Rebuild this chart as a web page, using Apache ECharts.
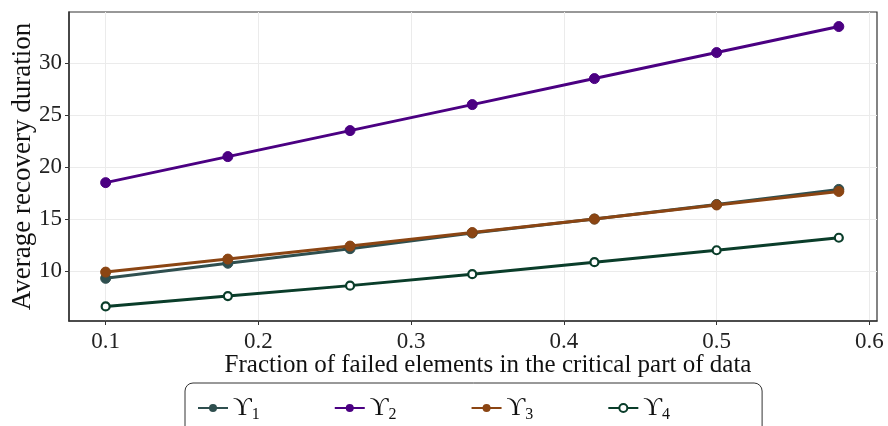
<!DOCTYPE html>
<html lang="en">
<head>
    <meta charset="UTF-8">
    <title>Average recovery duration</title>
    <script src="https://cdn.jsdelivr.net/npm/echarts@6/dist/echarts.min.js"></script>
    <style>
        html, body { margin: 0; padding: 0; background: #fff; }
        #main { width: 888px; height: 426px; }
    </style>
</head>
<body>
<div id="main"></div>
<script>
    // fraction of failed elements (x)
    let fractions = [0.1, 0.18, 0.26, 0.34, 0.42, 0.5, 0.58];
    let names = ['ϒ1', 'ϒ2', 'ϒ3', 'ϒ4'];
    let y1 = [9.3, 10.75, 12.15, 13.65, 15.0, 16.4, 17.85];
    let y2 = [18.5, 21.0, 23.5, 26.0, 28.5, 31.0, 33.5];
    let y3 = [9.9, 11.15, 12.4, 13.7, 15.0, 16.35, 17.65];
    let y4 = [6.6, 7.6, 8.6, 9.7, 10.85, 12.0, 13.2];
    let xTicks = [0.1, 0.2, 0.3, 0.4, 0.5, 0.6];
    let yTicks = [10, 15, 20, 25, 30];

    let font = '"Liberation Serif", "DejaVu Serif", serif';
    let colors = ['#2f4f4f', '#4b0082', '#8b4513', '#0a3d2a'];

    function pairs(ys) {
        return ys.map(function (v, i) { return [fractions[i], v]; });
    }

    let myChart = echarts.init(document.getElementById('main'));
    let series = [y1, y2, y3, y4].map(function (ys, i) {
        return {
            name: names[i],
            type: 'line',
            data: pairs(ys),
            symbol: 'circle',
            symbolSize: i === 3 ? 8 : 10,
            lineStyle: { color: colors[i], width: 3 },
            itemStyle: i === 3
                ? { color: '#fff', borderColor: colors[i], borderWidth: 2.2 }
                : { color: colors[i], borderColor: colors[i] },
            animation: false
        };
    });

    let option = {
        backgroundColor: '#fff',
        textStyle: { fontFamily: font },
        grid: {
            left: 69, right: 11, top: 12, bottom: 105,
            outerBoundsMode: 'none',
            containLabel: false,
            show: true, borderColor: '#333', borderWidth: 1.2
        },
        legend: {
            data: names,
            left: 185, top: 383,
            itemWidth: 30, itemHeight: 10,
            itemGap: 74,
            padding: [12, 92, 20, 12],
            borderColor: '#333', borderWidth: 1, borderRadius: 8,
            formatter: function (name) {
                return '{b|ϒ}{s|' + name.slice(1) + '}';
            },
            textStyle: {
                fontFamily: font,
                rich: {
                    b: { fontSize: 26, fontFamily: font, color: '#111' },
                    s: { fontSize: 16, fontFamily: font, color: '#111', padding: [13, 0, 0, 0] }
                }
            }
        },
        xAxis: {
            type: 'value',
            min: 0.076, max: 0.605,
            name: 'Fraction of failed elements in the critical part of data',
            nameLocation: 'middle', nameGap: 32,
            nameMoveOverlap: false,
            nameTextStyle: { fontSize: 25, fontFamily: font, color: '#111', padding: [0, 0, 0, 30] },
            axisLine: { show: true, onZero: false, lineStyle: { color: '#333', width: 1.5 } },
            axisTick: { show: true, length: 4, customValues: xTicks, lineStyle: { color: '#333' } },
            axisLabel: { customValues: xTicks, fontSize: 23, color: '#222', margin: 9, fontFamily: font },
            splitLine: { show: true, lineStyle: { color: '#ebebeb' } }
        },
        yAxis: {
            type: 'value',
            min: 5.2, max: 34.9,
            name: 'Average recovery duration',
            nameLocation: 'middle', nameGap: 33,
            nameMoveOverlap: false,
            nameTextStyle: { fontSize: 27, fontFamily: font, color: '#111' },
            axisLine: { show: true, onZero: false, lineStyle: { color: '#333', width: 1.5 } },
            axisTick: { show: true, length: 4, customValues: yTicks, lineStyle: { color: '#333' } },
            axisLabel: { customValues: yTicks, fontSize: 23, color: '#222', margin: 7, fontFamily: font },
            splitLine: { show: true, lineStyle: { color: '#ebebeb' } }
        },
        series: series
    };
    myChart.setOption(option);
</script>
</body>
</html>
